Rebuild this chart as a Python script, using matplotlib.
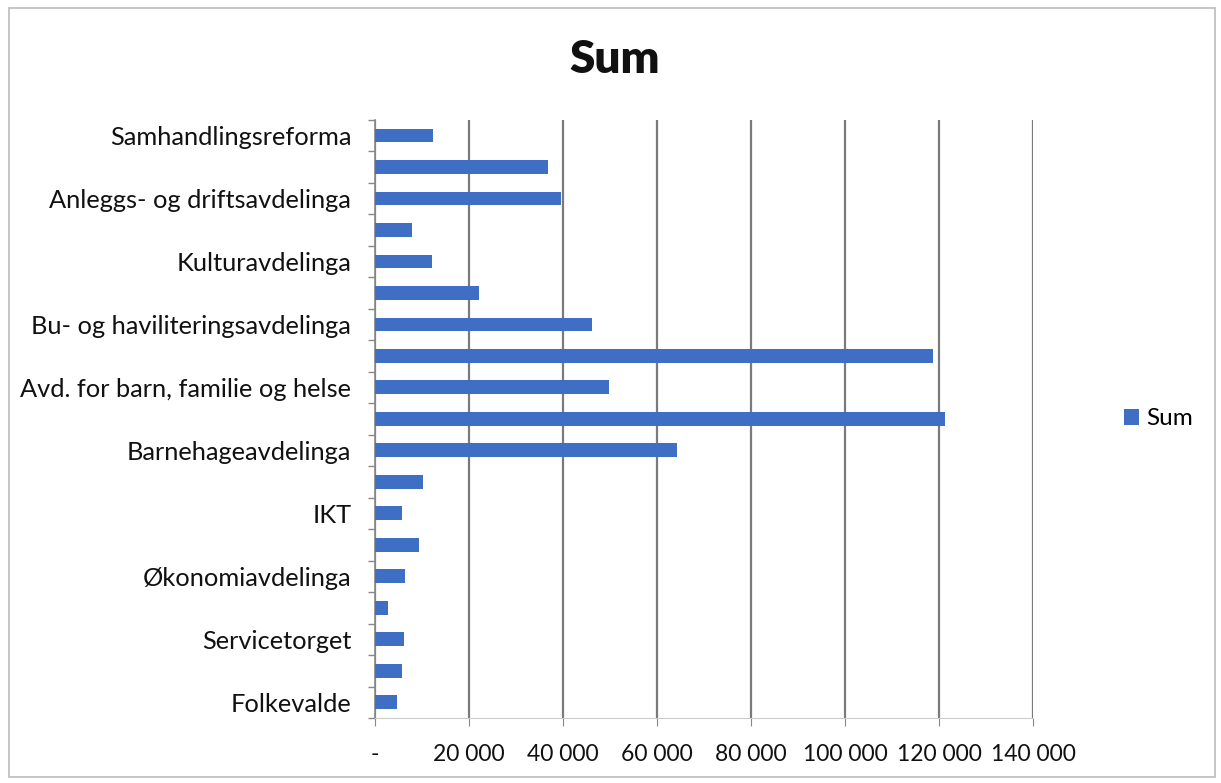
import matplotlib.pyplot as plt
from matplotlib.patches import Rectangle
from matplotlib.ticker import FuncFormatter

plt.rcParams['font.family'] = ['Lato', 'DejaVu Sans']

# categories, top to bottom (every other label hidden in the original)
categories = ["Samhandlingsreforma", "", "Anleggs- og driftsavdelinga", "",
              "Kulturavdelinga", "", "Bu- og haviliteringsavdelinga", "",
              "Avd. for barn, familie og helse", "", "Barnehageavdelinga", "",
              "IKT", "", "Økonomiavdelinga", "", "Servicetorget", "", "Folkevalde"]
values = [12300, 36900, 39600, 7900, 12100, 22200, 46200, 118700, 49800,
          121300, 64300, 10200, 5700, 9400, 6400, 2700, 6200, 5700, 4700]
xticks = [0, 20000, 40000, 60000, 80000, 100000, 120000, 140000]

blue = '#3E6FC4'

fig = plt.figure(figsize=(12.21, 7.83), dpi=100)
ax = fig.add_axes([0.3071, 0.083, 0.539, 0.764])

pos = list(range(len(categories)))
ax.barh(pos, values, height=0.44, color=blue, label="Sum", zorder=3)
ax.set_ylim(len(categories) - 0.5, -0.5)
ax.set_xlim(0, 140000)

ax.set_yticks(pos)
ax.set_yticklabels(categories, fontsize=18.3, color='#111111')
ax.tick_params(axis='y', length=0, pad=17)
# boundary tick marks on the category axis
ax.set_yticks([p - 0.5 for p in range(len(categories) + 1)], minor=True)
ax.tick_params(axis='y', which='minor', length=5, color='#888888', width=1)

ax.set_xticks(xticks)
ax.xaxis.set_major_formatter(FuncFormatter(
    lambda v, p: "-" if v == 0 else f"{int(v):,}".replace(",", " ")))
ax.tick_params(axis='x', length=6, color='#888888', labelsize=16.5, pad=13,
               labelcolor='#111111')

ax.grid(axis='x', color='#7a7a7a', linewidth=1.6, zorder=0)
for s in ['top', 'right']:
    ax.spines[s].set_visible(False)
ax.spines['left'].set_color('#888888')
ax.spines['left'].set_linewidth(1.2)
ax.spines['bottom'].set_color('#cccccc')
ax.spines['bottom'].set_linewidth(0.8)

fig.text(0.503, 0.924, "Sum", fontsize=33, fontweight='heavy', ha='center',
         va='center', color='#111111')

ax.legend(loc='center left', bbox_to_anchor=(1.105, 0.5), frameon=False,
          fontsize=17.5, handlelength=0.6, handleheight=0.6, handletextpad=0.3)

fig.patches.append(Rectangle((0.007, 0.008), 0.988, 0.982, transform=fig.transFigure,
                             fill=False, edgecolor='#bbbbbb', linewidth=1.2))

fig.savefig("out.png", dpi=100)
